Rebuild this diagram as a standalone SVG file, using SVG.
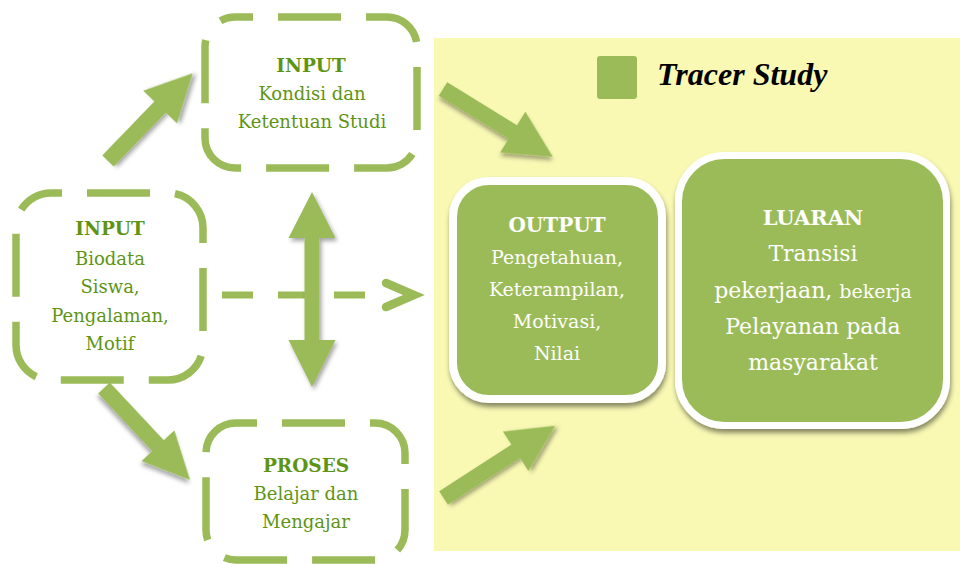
<svg xmlns="http://www.w3.org/2000/svg" width="960" height="564" viewBox="0 0 960 564">
<defs>
<filter id="sh" x="-20%" y="-20%" width="150%" height="150%">
<feDropShadow dx="2" dy="3" stdDeviation="2" flood-color="#000" flood-opacity="0.35"/>
</filter>
<filter id="bsh" x="-10%" y="-10%" width="120%" height="120%">
<feDropShadow dx="1" dy="4" stdDeviation="2.5" flood-color="#000" flood-opacity="0.45"/>
</filter>
</defs>
<style>
.dbox{fill:none;stroke:#9BBB59;stroke-width:7.5;stroke-dasharray:63 25}
.arr{fill:#9BBB59;filter:url(#sh)}
.gt{font-family:"DejaVu Serif","Liberation Serif",serif;fill:#5E9414;text-anchor:middle;font-size:18px}
.gb{font-weight:bold;font-size:18.5px}
.wt{font-family:"DejaVu Serif","Liberation Serif",serif;fill:#FFFFFF;text-anchor:middle}
.sbox{fill:#9BBB59;stroke:#FFFFFF;filter:url(#bsh)}
</style>
<rect width="960" height="564" fill="#FFFFFF"/>
<rect id="bg" x="434" y="38" width="526" height="513" fill="#F9F9B4"/>

<g id="legend">
<rect x="597" y="56" width="40" height="43" rx="3" fill="#9BBB59"/>
<text x="657" y="85" font-family="Liberation Serif,serif" font-weight="bold" font-style="italic" font-size="32" fill="#000">Tracer Study</text>
</g>

<g id="connectors">
<polygon class="arr" transform="translate(108,161) rotate(-46)" points="0,-8 75,-8 75,-23.5 122,0 75,23.5 75,8 0,8"/>
<polygon class="arr" transform="translate(104,388) rotate(46.9)" points="0,-8 79,-8 79,-22.5 126,0 79,22.5 79,8 0,8"/>
<polygon class="arr" transform="translate(443,89) rotate(31.7)" points="0,-8 82,-8 82,-24 129,0 82,24 82,8 0,8"/>
<polygon class="arr" transform="translate(443.5,498) rotate(-32.9)" points="0,-8 86,-8 86,-23.5 133,0 86,23.5 86,8 0,8"/>
<line x1="222" y1="295" x2="367" y2="295" stroke="#9BBB59" stroke-width="7" stroke-dasharray="31 25"/>
<path d="M386,283 L414,295 L386,307" fill="none" stroke="#9BBB59" stroke-width="8.5" stroke-linecap="round" stroke-linejoin="miter"/>
<polygon class="arr" points="312,192 335.5,238 319.5,238 319.5,340 335.5,340 312,387 288.5,340 304.5,340 304.5,238 288.5,238"/>
</g>

<g id="input-kondisi">
<rect class="dbox" x="205" y="17" width="212" height="151" rx="30" stroke-dashoffset="45"/>
<text class="gt gb" x="311" y="72">INPUT</text>
<text class="gt" x="312" y="100">Kondisi dan</text>
<text class="gt" x="312" y="128">Ketentuan Studi</text>
</g>

<g id="input-biodata">
<rect class="dbox" x="16" y="193" width="187" height="187" rx="35" stroke-dashoffset="52"/>
<text class="gt gb" x="110" y="235">INPUT</text>
<text class="gt" x="110" y="265">Biodata</text>
<text class="gt" x="110" y="293">Siswa,</text>
<text class="gt" x="110" y="322">Pengalaman,</text>
<text class="gt" x="110" y="350">Motif</text>
</g>

<g id="proses">
<rect class="dbox" x="206" y="423" width="199" height="137" rx="30" stroke-dashoffset="42"/>
<text class="gt gb" x="306" y="472">PROSES</text>
<text class="gt" x="306" y="500">Belajar dan</text>
<text class="gt" x="306" y="528">Mengajar</text>
</g>

<g id="output">
<rect class="sbox" x="453" y="181" width="209" height="218" rx="36" stroke-width="8"/>
<text class="wt" x="557" y="232" font-size="20" font-weight="bold">OUTPUT</text>
<text class="wt" x="557" y="264" font-size="19">Pengetahuan,</text>
<text class="wt" x="557" y="296" font-size="19">Keterampilan,</text>
<text class="wt" x="557" y="328" font-size="19">Motivasi,</text>
<text class="wt" x="557" y="360" font-size="19">Nilai</text>
</g>

<g id="luaran">
<rect class="sbox" x="678.5" y="155.5" width="268" height="270" rx="46" stroke-width="7"/>
<text class="wt" x="813" y="225" font-size="21" font-weight="bold">LUARAN</text>
<text class="wt" x="813" y="261" font-size="22">Transisi</text>
<text class="wt" x="813" y="298" font-size="22">pekerjaan, <tspan font-size="19">bekerja</tspan></text>
<text class="wt" x="813" y="334" font-size="22">Pelayanan pada</text>
<text class="wt" x="813" y="370" font-size="22">masyarakat</text>
</g>
</svg>
